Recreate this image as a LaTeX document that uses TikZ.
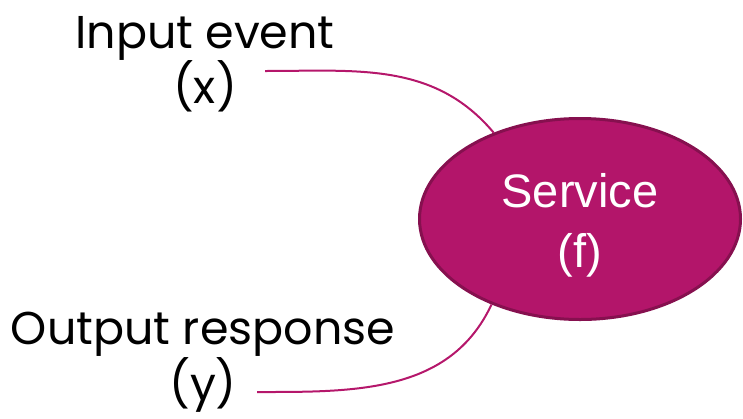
\documentclass[tikz,border=0pt]{standalone}
\usepackage{fontspec}
\setmainfont{Poppins}
\newfontfamily\servicefont{Liberation Sans}
\usetikzlibrary{shapes.geometric, positioning, calc}
\usepackage{xcolor}
\definecolor{svcFill}{HTML}{B3156A}
\definecolor{svcEdge}{HTML}{86104F}
\definecolor{svcLine}{HTML}{B5176B}

\tikzset{
  label text/.style={align=center, inner sep=0pt, text=black, font=\fontsize{46}{55}\selectfont},
  flow line/.style={draw=svcLine, line width=2pt}
}

\begin{document}
\begin{tikzpicture}[x=1pt, y=-1pt]
  \useasboundingbox (0,0) rectangle (743,418);
  \node[ellipse, draw=svcEdge, fill=svcFill, line width=3pt, minimum width=321pt, minimum height=201pt,
        inner sep=0pt] (Service) at (580,219) {};
  \node[align=center, inner sep=0pt, text=white, font=\servicefont\fontsize{47}{60}\selectfont]
    (ServiceText) at ([yshift=-6pt]Service.center) {Service\\(f)};
  \node[label text] (InputEvent) at (205,64) {Input event\\(x)};
  \node[label text, font=\fontsize{46}{51}\selectfont] (OutputResponse) at (203,362) {Output response\\(y)};
  \coordinate (InputEnd) at (265,71);
  \coordinate (OutputEnd) at (257,392);
  \draw[flow line] (InputEnd) to[out=0, in=130] (Service.135);
  \draw[flow line] (OutputEnd) to[out=0, in=245] (Service.224);
\end{tikzpicture}
\end{document}
